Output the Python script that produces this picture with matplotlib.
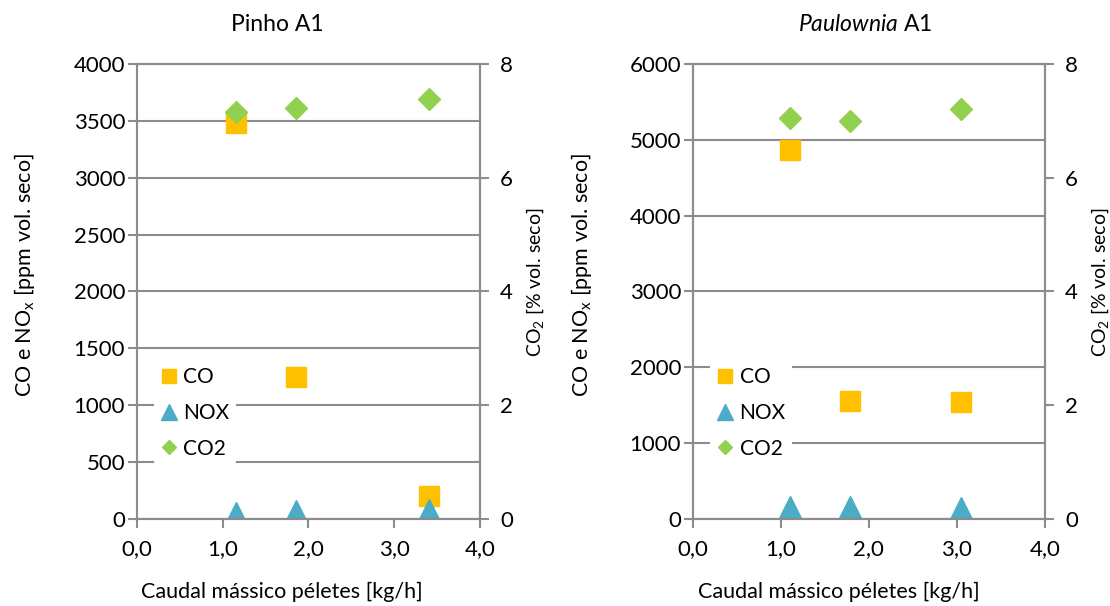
import matplotlib.pyplot as plt
from matplotlib.lines import Line2D
from matplotlib.ticker import FuncFormatter

plt.rcParams['font.family'] = ['Lato', 'DejaVu Sans']
plt.rcParams['mathtext.fontset'] = 'custom'
plt.rcParams['mathtext.rm'] = 'Lato'
plt.rcParams['mathtext.it'] = 'Lato:italic'

# Pinho A1
pinho_x = [1.15, 1.85, 3.40]
pinho_co = [3480, 1250, 200]
pinho_nox = [40, 60, 70]
pinho_co2 = [7.15, 7.22, 7.38]

# Paulownia A1
paul_x = [1.10, 1.78, 3.05]
paul_co = [4870, 1560, 1540]
paul_nox = [150, 150, 130]
paul_co2 = [7.05, 7.00, 7.20]

titles = ["Pinho A1", r"$\mathit{Paulownia}$ A1"]
ymax_left = [4000, 6000]
ystep_left = [500, 1000]

c_co = '#FFC000'
c_nox = '#4BACC6'
c_co2 = '#92D050'
gray = '#8C8C8C'

fig = plt.figure(figsize=(11.1, 6.06), dpi=100)
positions = [[0.1234, 0.1436, 0.309, 0.751], [0.6243, 0.1436, 0.317, 0.751]]
datasets = [(pinho_x, pinho_co, pinho_nox, pinho_co2), (paul_x, paul_co, paul_nox, paul_co2)]
title_x = [0.408, 0.489]
xlabel_x = [0.423, 0.415]
ylabel_left_x = [-0.292, -0.281]
ylabel_right_x = [1.131, 1.128]

comma = FuncFormatter(lambda v, p: f"{v:.1f}".replace('.', ','))

for i, (x, co, nox, co2) in enumerate(datasets):
    ax1 = fig.add_axes(positions[i])
    ax1.set_xlim(0, 4)
    ax1.set_ylim(0, ymax_left[i])
    ax1.set_xticks([0, 1, 2, 3, 4])
    ax1.xaxis.set_major_formatter(comma)
    ax1.set_yticks(range(0, ymax_left[i] + 1, ystep_left[i]))
    ax1.grid(axis='y', color=gray, linewidth=1.5)
    ax1.set_axisbelow(True)
    for s in ax1.spines.values():
        s.set_color(gray)
        s.set_linewidth(1.5)
    ax1.tick_params(direction='out', length=6.5, width=1.5, color=gray, labelsize=16, pad=2)
    ax1.tick_params(axis='x', pad=8)
    ax1.plot(x, co, 's', color=c_co, markersize=15, linestyle='none')
    ax1.plot(x, nox, '^', color=c_nox, markersize=17, linestyle='none')
    ax1.set_xlabel("Caudal mássico péletes [kg/h]", fontsize=15.5)
    ax1.xaxis.set_label_coords(xlabel_x[i], -0.138)
    ax1.set_ylabel(r"CO e NO$_\mathregular{x}$ [ppm vol. seco]", fontsize=15.5)
    ax1.yaxis.set_label_coords(ylabel_left_x[i], 0.536)
    ax1.set_title(titles[i], fontsize=16.5, x=title_x[i], pad=24)

    ax2 = ax1.twinx()
    ax2.set_ylim(0, 8)
    ax2.set_yticks([0, 2, 4, 6, 8])
    for s in ax2.spines.values():
        s.set_color(gray)
        s.set_linewidth(1.5)
    ax2.tick_params(direction='out', length=6.5, width=1.5, color=gray, labelsize=16, pad=8)
    ax2.plot(x, co2, 'D', color=c_co2, markersize=11, linestyle='none')
    ax2.set_ylabel(r"CO$_\mathregular{2}$ [% vol. seco]", fontsize=14)
    ax2.yaxis.set_label_coords(ylabel_right_x[i], 0.52)

    handles = [
        Line2D([], [], marker='s', color=c_co, linestyle='none', markersize=10),
        Line2D([], [], marker='^', color=c_nox, linestyle='none', markersize=11),
        Line2D([], [], marker='D', color=c_co2, linestyle='none', markersize=7),
    ]
    leg = ax2.legend(handles, ["CO", "NOX", "CO2"], loc='upper left',
                     bbox_to_anchor=(0.02, 0.37), frameon=True, fontsize=15,
                     handlelength=0.8, handletextpad=0.3, labelspacing=0.75,
                     borderpad=0.3, framealpha=1)
    leg.get_frame().set_edgecolor('none')
    leg.get_frame().set_facecolor('white')

fig.savefig('out.png', dpi=100)
